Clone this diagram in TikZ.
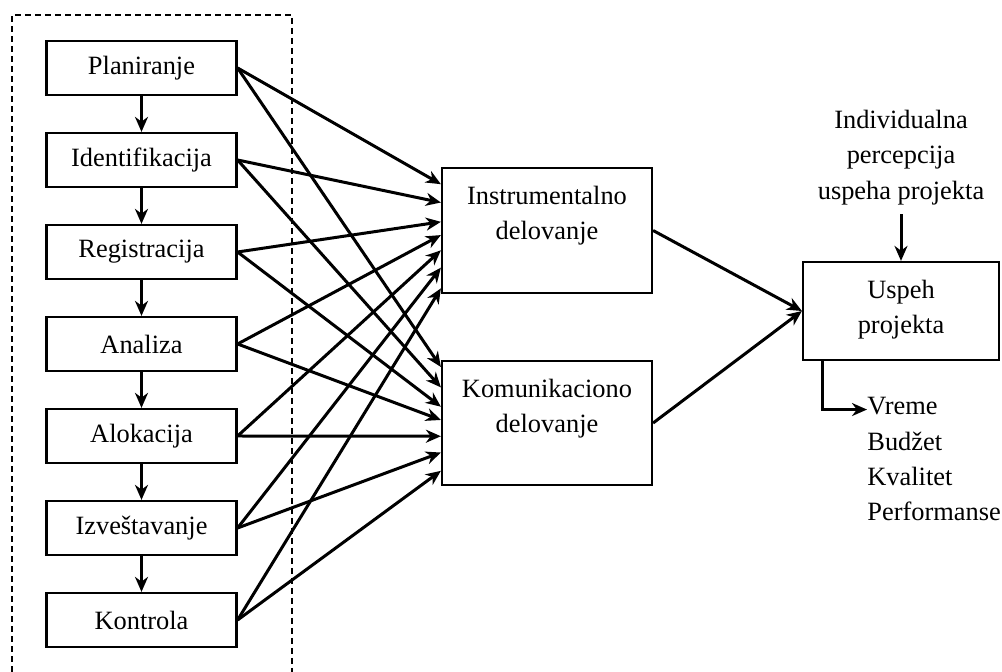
\documentclass[tikz,border=0pt]{standalone}
\usepackage{fontspec}
\setmainfont{Liberation Serif}
\usetikzlibrary{arrows.meta,calc}
\begin{document}
\begin{tikzpicture}[x=0.5pt,y=-0.5pt,
  font=\fontsize{13.2pt}{17.6pt}\selectfont,
  stepbox/.style={draw,line width=1.1pt,minimum width=95pt,minimum height=27pt,inner sep=0pt},
  bigbox/.style={draw,line width=1.1pt,minimum width=105pt,minimum height=62.5pt,inner sep=0pt},
  boxlabel/.style={anchor=north,align=center,inner sep=0pt},
  listitem/.style={anchor=base west,inner sep=0pt},
  arr/.style={line width=1.5pt,-{Stealth[length=7.5pt,width=6.5pt,inset=2.4pt]}},
  frame/.style={line width=1pt,dash pattern=on 3pt off 2pt},
]
\useasboundingbox (0,0) rectangle (1002,672);
\draw[frame] (12,672) -- (12,15) -- (292,15) -- (292,672);

% left column
\node[stepbox] (pl) at (141.5,68)  {Planiranje};
\node[stepbox] (id) at (141.5,160) {Identifikacija};
\node[stepbox] (re) at (141.5,252) {Registracija};
\node[stepbox] (an) at (141.5,344) {Analiza};
\node[stepbox] (al) at (141.5,436) {Alokacija};
\node[stepbox] (iz) at (141.5,528) {Izveštavanje};
\node[stepbox] (ko) at (141.5,620) {Kontrola};

\draw[arr] (pl) -- (id);
\draw[arr] (id) -- (re);
\draw[arr] (re) -- (an);
\draw[arr] (an) -- (al);
\draw[arr] (al) -- (iz);
\draw[arr] (iz) -- (ko);

% middle boxes
\node[bigbox] (I) at (547,230.5) {};
\node[boxlabel] (It) at ([yshift=-9.5pt]I.north) {Instrumentalno\\delovanje};
\node[bigbox,minimum height=62pt] (K) at (547,423) {};
\node[boxlabel] (Kt) at ([yshift=-9.5pt]K.north) {Komunikaciono\\delovanje};

% right box
\node[draw,line width=1.1pt,minimum width=98pt,minimum height=49pt,inner sep=0pt] (U) at (901,311) {};
\node[boxlabel] (Ut) at ([yshift=-9.5pt]U.north) {Uspeh\\projekta};

\node[boxlabel] (ind) at (901,110) {Individualna\\percepcija\\uspeha projekta};
\draw[arr] ([yshift=-4.5pt]ind.south) -- (U.north);

% outputs
\node[listitem] (vr) at (867,415) {Vreme};
\node[listitem] (bu) at (867,451) {Budžet};
\node[listitem] (kv) at (867,486) {Kvalitet};
\node[listitem] (pe) at (867,521) {Performanse};
\draw[arr] ([xshift=10.5pt]U.south west) |- ([yshift=-1.5pt]vr.west);

% to Instrumentalno
\draw[arr] (pl.east) -- ($(I.north west)!0.136!(I.south west)$);
\draw[arr] (id.east) -- ($(I.north west)!0.280!(I.south west)$);
\draw[arr] (re.east) -- ($(I.north west)!0.432!(I.south west)$);
\draw[arr] (an.east) -- ($(I.north west)!0.536!(I.south west)$);
\draw[arr] (al.east) -- ($(I.north west)!0.656!(I.south west)$);
\draw[arr] (iz.east) -- ($(I.north west)!0.792!(I.south west)$);
\draw[arr] (ko.east) -- ($(I.north west)!0.955!(I.south west)$);

% to Komunikaciono
\draw[arr] (pl.east) -- ($(K.north west)!0.056!(K.south west)$);
\draw[arr] (id.east) -- ($(K.north west)!0.218!(K.south west)$);
\draw[arr] (re.east) -- ($(K.north west)!0.371!(K.south west)$);
\draw[arr] (an.east) -- ($(K.north west)!0.476!(K.south west)$);
\draw[arr] (al.east) -- ($(K.north west)!0.605!(K.south west)$);
\draw[arr] (iz.east) -- ($(K.north west)!0.734!(K.south west)$);
\draw[arr] (ko.east) -- ($(K.north west)!0.879!(K.south west)$);

% to Uspeh
\draw[arr] (I.east) -- (U.west);
\draw[arr] (K.east) -- (U.west);
\end{tikzpicture}
\end{document}
